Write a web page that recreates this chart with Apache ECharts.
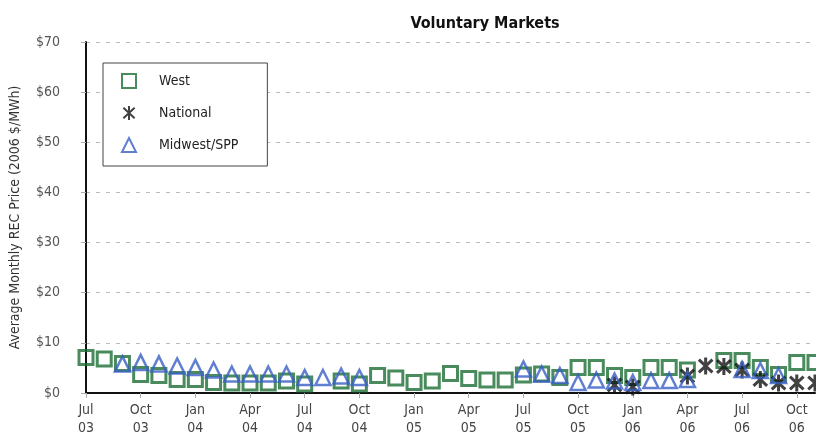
<!DOCTYPE html>
<html>
<head>
<meta charset="utf-8">
<script src="https://cdn.jsdelivr.net/npm/echarts@6/dist/echarts.min.js"></script>
<style>
html,body{margin:0;padding:0;background:#fff;}
#chart{width:816px;height:437px;}
</style>
</head>
<body>
<div id="chart"></div>
<script>
var months = ['Jul\n03','Aug\n03','Sep\n03','Oct\n03','Nov\n03','Dec\n03',
  'Jan\n04','Feb\n04','Mar\n04','Apr\n04','May\n04','Jun\n04','Jul\n04','Aug\n04','Sep\n04','Oct\n04','Nov\n04','Dec\n04',
  'Jan\n05','Feb\n05','Mar\n05','Apr\n05','May\n05','Jun\n05','Jul\n05','Aug\n05','Sep\n05','Oct\n05','Nov\n05','Dec\n05',
  'Jan\n06','Feb\n06','Mar\n06','Apr\n06','May\n06','Jun\n06','Jul\n06','Aug\n06','Sep\n06','Oct\n06','Nov\n06'];

var west = [7.1,6.8,5.9,3.7,3.5,2.7,2.7,2.1,2.0,2.0,2.0,2.4,1.8,null,2.4,1.8,3.5,3.0,
  2.1,2.4,3.9,2.9,2.6,2.6,3.6,3.8,3.1,5.1,5.1,3.5,
  3.1,5.1,5.1,4.6,null,6.5,6.5,5.1,3.7,6.1,6.1];

var national = [null,null,null,null,null,null,
  null,null,null,null,null,null,null,null,null,null,null,null,
  null,null,null,null,null,null,null,null,null,null,null,1.6,
  1.2,null,null,3.4,5.4,5.3,4.6,2.7,2.0,2.0,2.0];

var midwest = [null,null,5.8,6.1,5.8,5.4,
  5.1,4.6,3.8,3.8,3.8,3.8,3.1,3.1,3.4,3.1,null,null,
  null,null,null,null,null,null,4.8,3.8,3.5,2.1,2.6,2.4,
  2.1,2.5,2.5,2.7,null,null,4.7,4.5,3.5,null,null];

var yMin = 0, yMax = 70, yStep = 10;
var titleText = 'Voluntary Markets';
var yTitle = 'Average Monthly REC Price (2006 $/MWh)';

var FONT = "'DejaVu Sans Condensed','Liberation Sans',sans-serif";
var asterisk = 'path://M10 0 L10 20 M2 2.5 L18 17.5 M2 17.5 L18 2.5';

var chart = echarts.init(document.getElementById('chart'), null, {renderer:'canvas'});
chart.setOption({
  animation: false,
  backgroundColor: '#fff',
  title: {
    text: titleText,
    left: 480, top: 11, textAlign: 'center',
    textStyle: {fontFamily: FONT, fontWeight: 'bold', fontSize: 16, color: '#111'}
  },
  legend: {
    orient: 'vertical',
    left: 103, top: 63,
    itemWidth: 14, itemHeight: 14, itemGap: 16,
    padding: [10, 29, 13, 18],
    backgroundColor: '#fff',
    borderColor: '#444', borderWidth: 1,
    textStyle: {fontFamily: FONT, fontSize: 14, color: '#222', padding: [0,0,0,18]},
    data: ['West','National','Midwest/SPP']
  },
  grid: {left: 84, right: 1, top: 42, bottom: 44, containLabel: false},
  xAxis: {
    type: 'category',
    data: months,
    boundaryGap: false,
    axisLine: {lineStyle: {color: '#111', width: 2}},
    axisTick: {interval: 2, length: 5, lineStyle: {color: '#aaa'}},
    axisLabel: {interval: 2, margin: 8, fontFamily: FONT, fontSize: 14, color: '#444', lineHeight: 18},
    splitLine: {show: false}
  },
  yAxis: {
    type: 'value',
    min: yMin, max: yMax, interval: yStep,
    name: yTitle,
    nameLocation: 'middle',
    nameGap: 64,
    nameTextStyle: {fontFamily: FONT, fontSize: 14, color: '#333'},
    axisLine: {show: true, lineStyle: {color: '#111', width: 2}},
    axisTick: {show: true, length: 5, lineStyle: {color: '#aaa'}},
    axisLabel: {margin: 26, fontFamily: FONT, fontSize: 14, color: '#555',
      formatter: function(v){ return '$' + v; }},
    splitLine: {show: true, lineStyle: {color: '#bbb', type: [4,6], width: 1}}
  },
  series: [
    {
      name: 'West', type: 'scatter', data: west,
      symbol: 'rect', symbolSize: 14,
      itemStyle: {color: 'rgba(0,0,0,0)', borderColor: '#1b6e33', borderWidth: 3}
    },
    {
      name: 'National', type: 'scatter', data: national,
      symbol: asterisk, symbolSize: 17, symbolKeepAspect: true,
      itemStyle: {color: 'rgba(0,0,0,0)', borderColor: '#111', borderWidth: 3}
    },
    {
      name: 'Midwest/SPP', type: 'scatter', data: midwest,
      symbol: 'triangle', symbolSize: 15,
      itemStyle: {color: 'rgba(0,0,0,0)', borderColor: '#3a5fc6', borderWidth: 2.5}
    }
  ]
});
</script>
</body>
</html>
